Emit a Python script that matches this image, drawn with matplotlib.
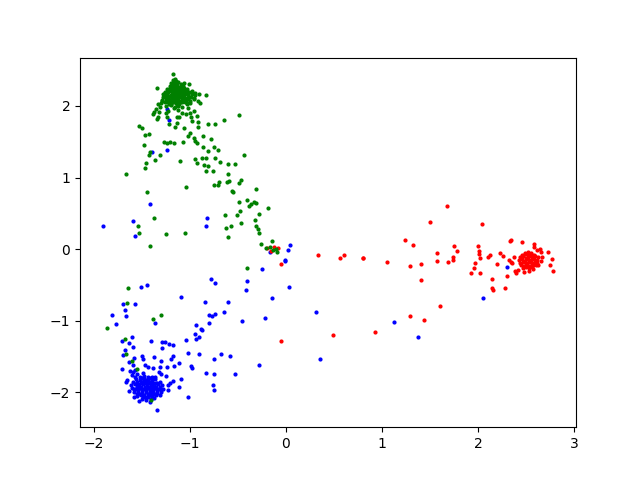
import numpy as np
import matplotlib
matplotlib.use('Agg')
import matplotlib.pyplot as plt

# (x, y), one list per class
green_spread = [
    (-1.177, 2.44), (-1.34, 2.256), (-0.833, 2.149), (-0.493, 1.879), (-0.649, 1.804), (-0.816, 1.753),
    (-0.74, 1.748), (-1.535, 1.72), (-1.5, 1.692), (-1.222, 1.744), (-1.139, 1.758), (-1.156, 1.702),
    (-1.059, 1.692), (-0.92, 1.711), (-0.92, 1.776), (-0.976, 1.795), (-0.924, 1.86), (-0.993, 1.841),
    (-0.962, 1.935), (-1.0, 1.627), (-1.021, 1.58), (-1.424, 1.608), (-1.469, 1.59), (-0.865, 1.58),
    (-0.781, 1.543), (-0.962, 1.548), (-0.948, 1.515), (-0.931, 1.487), (-1.069, 1.501), (-1.274, 1.492),
    (-1.236, 1.478), (-1.208, 1.497), (-1.163, 1.487), (-1.483, 1.45), (-0.865, 1.431), (-0.753, 1.431),
    (-0.816, 1.375), (-0.712, 1.389), (-1.417, 1.357), (-1.427, 1.319), (-1.312, 1.315), (-0.4375, 1.319),
    (-1.361, 1.249), (-1.462, 1.203), (-1.472, 1.138), (-1.108, 1.231), (-0.951, 1.263), (-0.927, 1.207),
    (-0.875, 1.273), (-0.83, 1.268), (-0.74, 1.273), (-0.684, 1.212), (-0.601, 1.189), (-0.531, 1.189),
    (-0.854, 1.179), (-0.8125, 1.166), (-0.833, 1.091), (-0.757, 1.091), (-0.601, 1.054), (-1.667, 1.054),
    (-0.753, 0.895), (-0.712, 0.895), (-0.698, 0.937), (-0.618, 0.932), (-0.597, 0.946), (-0.486, 0.923),
    (-0.472, 0.97), (-1.045, 0.867), (-0.566, 0.816), (-0.549, 0.802), (-0.3125, 0.834), (-1.451, 0.797),
    (-0.406, 0.685), (-0.49, 0.653), (-0.33, 0.662), (-0.3125, 0.648), (-0.365, 0.629), (-0.385, 0.606),
    (-0.184, 0.573), (-0.483, 0.527), (-0.514, 0.48), (-0.635, 0.48), (-0.281, 0.485), (-1.378, 0.434),
    (-0.326, 0.406), (-0.465, 0.368), (-0.576, 0.326), (-0.628, 0.294), (-0.309, 0.326), (-0.295, 0.28),
    (-0.281, 0.228), (-1.542, 0.326), (-1.528, 0.219), (-1.253, 0.21), (-1.056, 0.228), (-0.601, 0.163),
    (-1.417, 0.042), (-0.257, 0.075), (-0.149, 0.107), (-0.212, 0.014), (-0.167, 0.023), (-0.132, -0.014),
    (-0.097, -0.037), (-0.104, 0.005),
    (-0.41, -0.27), (-1.646, -0.545), (-1.653, -0.746), (-1.385, -0.97), (-1.302, -0.923), (-1.865, -1.096),
    (-1.674, -1.259), (-1.67, -1.459), (-1.6, -1.562), (-1.555, -1.669), (-1.41, -2.112),
    (-1.389, 1.888), (-1.375, 1.921), (-1.354, 1.953), (-1.33, 2.023), (-1.312, 1.991), (-1.319, 1.921),
    (-1.347, 1.818), (-1.33, 1.841), (-1.236, 1.851), (-1.25, 1.897), (-1.229, 1.935), (-1.163, 1.972),
    (-1.121, 1.944), (-1.132, 1.851), (-1.118, 1.846), (-1.087, 1.897), (-1.042, 1.883), (-1.0, 1.897),
    (-1.017, 1.967), (-1.08, 1.991), (-1.035, 2.023), (-1.0, 2.037), (-0.913, 2.07), (-0.896, 2.047),
    (-0.948, 2.177), (-0.903, 2.168), (-1.007, 2.308), (-1.062, 2.326), (-1.295, 2.075), (-1.278, 2.163),
    (-1.226, 2.224),
]
green_core = [
    (-1.18, 2.36), (-1.16, 2.37), (-1.14, 2.35), (-1.2, 2.32), (-1.17, 2.33), (-1.15, 2.31), (-1.12, 2.33),
    (-1.09, 2.31), (-1.21, 2.28), (-1.19, 2.29), (-1.16, 2.27), (-1.13, 2.29), (-1.1, 2.27), (-1.07, 2.28),
    (-1.24, 2.24), (-1.21, 2.25), (-1.18, 2.23), (-1.15, 2.25), (-1.12, 2.24), (-1.09, 2.23), (-1.06, 2.25),
    (-1.03, 2.24), (-1.26, 2.2), (-1.22, 2.21), (-1.19, 2.19), (-1.16, 2.21), (-1.13, 2.2), (-1.1, 2.19),
    (-1.07, 2.21), (-1.04, 2.2), (-1.01, 2.19), (-0.98, 2.21), (-1.27, 2.16), (-1.24, 2.17), (-1.2, 2.15),
    (-1.17, 2.17), (-1.14, 2.16), (-1.11, 2.15), (-1.08, 2.17), (-1.05, 2.16), (-1.02, 2.15), (-0.98, 2.17),
    (-0.95, 2.15), (-1.28, 2.12), (-1.25, 2.13), (-1.22, 2.11), (-1.18, 2.13), (-1.15, 2.12), (-1.12, 2.11),
    (-1.09, 2.13), (-1.06, 2.12), (-1.03, 2.11), (-0.99, 2.13), (-0.96, 2.11), (-1.29, 2.08), (-1.25, 2.09),
    (-1.21, 2.07), (-1.17, 2.09), (-1.14, 2.08), (-1.11, 2.07), (-1.07, 2.09), (-1.04, 2.08), (-1.0, 2.07),
    (-0.96, 2.09), (-1.3, 2.04), (-1.26, 2.05), (-1.22, 2.03), (-1.18, 2.05), (-1.15, 2.04), (-1.11, 2.03),
    (-1.08, 2.05), (-1.03, 2.04), (-1.25, 2.0), (-1.2, 2.01), (-1.16, 1.99), (-1.12, 2.0),
    (-1.17, 2.31), (-1.13, 2.26), (-1.18, 2.26), (-1.2, 2.23), (-1.15, 2.22), (-1.1, 2.22), (-1.06, 2.22),
    (-1.23, 2.19), (-1.18, 2.18), (-1.12, 2.18), (-1.06, 2.18), (-1.02, 2.18), (-1.23, 2.14), (-1.19, 2.14),
    (-1.13, 2.14), (-1.07, 2.14), (-1.01, 2.13), (-1.24, 2.1), (-1.19, 2.1), (-1.13, 2.1), (-1.08, 2.1),
    (-1.02, 2.09), (-1.23, 2.06), (-1.16, 2.06), (-1.1, 2.06), (-1.05, 2.06), (-1.2, 2.03), (-1.13, 2.02),
]
blue_spread = [
    (-1.91, 0.322), (-1.597, 0.396), (-1.569, 0.182), (-1.417, 0.629), (-0.826, 0.438), (-0.837, 0.317),
    (-1.243, 1.963), (-1.222, 1.8), (-1.24, 1.38), (-1.4, 1.352), (0.038, 0.061), (0.021, -0.014),
    (-0.007, -0.145), (-0.167, -0.037),
    (-1.51, -0.527), (-1.448, -0.503), (-1.694, -0.76), (-1.573, -0.765), (-1.677, -0.848), (-1.812, -0.923),
    (-1.667, -0.937), (-1.771, -1.049), (-1.365, -1.03), (-0.785, -0.424), (-0.74, -0.476), (-1.097, -0.671),
    (-0.84, -0.741), (-0.601, -0.732), (-0.642, -0.881), (-0.74, -0.904), (-0.799, -0.923), (-0.771, -0.928),
    (-0.799, -1.035), (-0.9375, -1.054), (-0.889, -1.114), (-0.878, -1.124), (-0.948, -1.184), (-0.906, -1.221),
    (-0.934, -1.259), (-1.045, -1.263), (-0.253, -0.284), (-0.403, -0.448), (-0.42, -0.564), (-0.007, -0.163),
    (0.035, -0.527), (-0.142, -0.685), (-0.222, -0.965), (-0.455, -1.002), (-1.608, -1.231), (-1.712, -1.282),
    (-1.635, -1.315), (-1.597, -1.366), (-1.41, -1.277), (-1.292, -1.291), (-1.26, -1.291), (-1.222, -1.319),
    (-1.174, -1.343), (-1.292, -1.385), (-1.677, -1.413), (-1.701, -1.483), (-1.5, -1.487), (-1.49, -1.538),
    (-1.375, -1.506), (-1.299, -1.562), (-1.177, -1.497), (-1.198, -1.538), (-1.115, -1.59), (-1.021, -1.445),
    (-0.906, -1.459), (-0.677, -1.459), (-0.587, -1.497), (-0.747, -1.529), (-0.281, -1.622), (-0.986, -1.636),
    (-0.983, -1.664), (-0.833, -1.725), (-0.747, -1.748), (-0.531, -1.748), (-0.757, -1.902), (-0.75, -1.967),
    (-1.118, -1.925), (-1.021, -2.061), (-1.094, -1.809), (-1.347, -2.252), (-1.712, -1.678), (-1.635, -1.58),
    (-1.58, -1.524), (-1.59, -1.622), (-1.469, -1.618), (-1.434, -1.646), (-1.385, -1.66), (-1.316, -1.65),
    (-1.243, -1.646), (-1.17, -1.636), (-1.319, -1.72), (-1.305, -1.739), (-1.253, -1.772), (-1.365, -1.781),
    (-1.226, -1.902), (-1.226, -1.967), (-1.208, -1.869), (-1.18, -1.846), (-1.625, -1.701), (-1.597, -1.715),
    (-1.569, -1.692), (-1.552, -1.739), (-1.486, -1.73), (-1.66, -1.832), (-1.67, -1.855),
    (2.299, -0.252), (2.052, -0.681), (1.125, -1.021), (1.378, -1.226), (0.309, -0.881), (0.358, -1.529),
    (-1.63, -1.98), (-1.58, -2.07), (-1.53, -2.12), (-1.42, -2.13), (-1.6, -1.76), (-1.57, -1.79),
]
blue_core = [
    (-1.52, -1.78), (-1.48, -1.77), (-1.44, -1.79), (-1.4, -1.78), (-1.56, -1.82), (-1.52, -1.83), (-1.48, -1.81),
    (-1.44, -1.82), (-1.4, -1.83), (-1.36, -1.81), (-1.59, -1.86), (-1.55, -1.85), (-1.51, -1.87), (-1.47, -1.85),
    (-1.43, -1.86), (-1.39, -1.85), (-1.35, -1.87), (-1.31, -1.85), (-1.61, -1.9), (-1.57, -1.89), (-1.53, -1.91),
    (-1.49, -1.89), (-1.45, -1.9), (-1.41, -1.89), (-1.37, -1.91), (-1.33, -1.89), (-1.29, -1.9), (-1.6, -1.94),
    (-1.56, -1.96), (-1.52, -1.94), (-1.48, -1.95), (-1.44, -1.94), (-1.4, -1.96), (-1.36, -1.94), (-1.32, -1.95),
    (-1.28, -1.96), (-1.58, -2.0), (-1.54, -1.99), (-1.5, -2.01), (-1.46, -1.99), (-1.42, -2.0), (-1.38, -1.99),
    (-1.34, -2.01), (-1.3, -1.99), (-1.55, -2.05), (-1.51, -2.04), (-1.47, -2.06), (-1.43, -2.04), (-1.39, -2.05),
    (-1.35, -2.04), (-1.31, -2.04), (-1.5, -2.09), (-1.46, -2.1), (-1.41, -2.09), (-1.37, -2.08),
    (-1.5, -1.8), (-1.46, -1.83), (-1.42, -1.8), (-1.54, -1.88), (-1.5, -1.86), (-1.46, -1.87), (-1.42, -1.87),
    (-1.38, -1.87), (-1.34, -1.87), (-1.55, -1.93), (-1.51, -1.92), (-1.47, -1.92), (-1.43, -1.92), (-1.39, -1.93),
    (-1.35, -1.92), (-1.31, -1.93), (-1.54, -1.97), (-1.5, -1.97), (-1.46, -1.97), (-1.42, -1.97), (-1.38, -1.97),
    (-1.34, -1.97), (-1.3, -1.97), (-1.52, -2.02), (-1.48, -2.03), (-1.44, -2.02), (-1.4, -2.02), (-1.36, -2.02),
    (-1.49, -2.07), (-1.44, -2.07), (-1.4, -2.07), (-1.55, -2.02), (-1.58, -1.95),
]
red_spread = [
    (1.674, 0.601), (1.497, 0.382), (2.038, 0.354), (1.236, 0.121), (1.323, 0.056), (1.753, 0.042),
    (1.778, -0.028), (1.573, -0.061), (1.573, -0.163), (1.736, -0.107), (1.736, -0.149), (1.688, -0.177),
    (1.403, -0.21), (1.292, -0.233), (1.052, -0.186), (0.806, -0.121), (0.806, -0.13), (0.601, -0.084),
    (0.559, -0.121), (0.33, -0.084), (-0.056, -0.205), (1.41, -0.429), (1.604, -0.797), (1.288, -0.937),
    (1.438, -0.993), (0.931, -1.152), (0.493, -1.203), (-0.056, -1.277), (1.997, 0.042), (2.01, -0.033),
    (2.014, -0.07), (2.021, -0.121), (1.972, -0.2), (1.958, -0.261), (1.924, -0.331), (2.021, -0.336),
    (2.101, -0.107), (2.122, -0.079), (2.229, -0.051), (2.26, -0.089), (2.194, -0.214), (2.142, -0.424),
    (2.299, -0.382), (2.142, -0.536), (2.156, -0.564), (2.278, -0.536), (2.333, 0.112), (2.347, 0.126),
    (2.455, 0.103), (2.583, 0.07), (2.58, 0.023), (2.646, 0.005), (2.656, -0.037), (2.729, -0.042),
    (2.67, -0.112), (2.653, -0.163), (2.774, -0.14), (2.753, -0.219), (2.785, -0.312), (2.378, -0.107),
    (2.323, -0.154), (2.34, -0.182), (2.358, -0.191), (2.389, -0.308), (2.399, -0.34), (2.417, -0.294),
    (2.483, -0.317), (2.535, -0.312), (2.576, -0.284), (2.628, -0.224), (2.611, -0.014),
    (-0.194, 0.019), (-0.125, 0.033), (-0.08, 0.009), (-0.16, -0.028),
]
red_core = [
    (2.49, -0.05), (2.52, -0.04), (2.55, -0.05), (2.46, -0.08), (2.49, -0.07), (2.52, -0.08), (2.55, -0.07),
    (2.58, -0.08), (2.44, -0.11), (2.47, -0.1), (2.5, -0.12), (2.53, -0.1), (2.56, -0.11), (2.59, -0.1),
    (2.62, -0.11), (2.43, -0.15), (2.46, -0.14), (2.49, -0.16), (2.52, -0.14), (2.55, -0.15), (2.58, -0.14),
    (2.61, -0.15), (2.44, -0.19), (2.47, -0.18), (2.5, -0.2), (2.53, -0.18), (2.56, -0.19), (2.59, -0.18),
    (2.61, -0.19), (2.45, -0.22), (2.48, -0.23), (2.51, -0.22), (2.54, -0.23), (2.57, -0.22), (2.6, -0.22),
    (2.47, -0.26), (2.5, -0.25), (2.53, -0.26), (2.56, -0.25),
]

green = np.array(green_spread + green_core)
blue = np.array(blue_spread + blue_core)
red = np.array(red_spread + red_core)

fig, ax = plt.subplots(figsize=(6.4, 4.8), dpi=100)
ax.scatter(blue[:, 0], blue[:, 1], c='b', s=4)
ax.scatter(red[:, 0], red[:, 1], c='r', s=4)
ax.scatter(green[:, 0], green[:, 1], c='g', s=4)
plt.savefig('out.png', dpi=100)
